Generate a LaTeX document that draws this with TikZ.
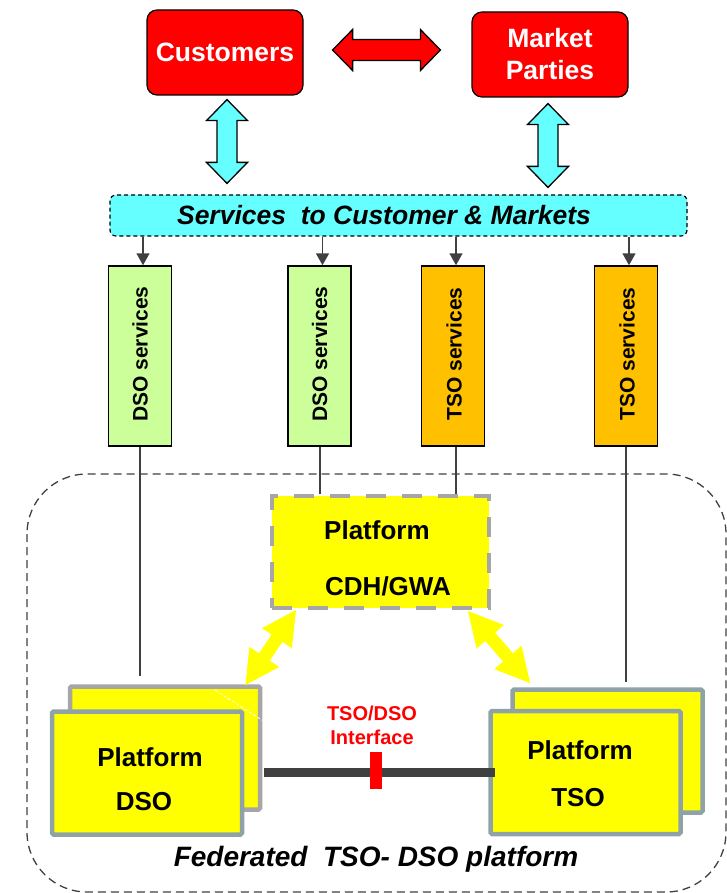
\documentclass[tikz,border=0pt]{standalone}
\usepackage{fontspec}
\setmainfont{Liberation Sans}
\usetikzlibrary{calc,arrows.meta}

\definecolor{cred}{HTML}{FF0000}
\definecolor{ccyan}{HTML}{66FFFF}
\definecolor{cgreen}{HTML}{CCFF99}
\definecolor{corange}{HTML}{FFC000}
\definecolor{cyellow}{HTML}{FFFF00}
\definecolor{cgray}{HTML}{A6A6A6}
\definecolor{cbluegray}{HTML}{8FA3A6}
\definecolor{cdark}{HTML}{404040}

% block arrow with a head at both ends:
% #1 start, #2 end, #3 shaft half width, #4 head half width, #5 head length, #6 style
\newcommand\fatarrow[6]{%
  \path[#6] let \p1=(#1), \p2=(#2),
    \n1={atan2(\y2-\y1,\x2-\x1)}, \n2={veclen(\x2-\x1,\y2-\y1)} in
    [shift={(\p1)}, rotate=\n1]
    (0,0) -- (#5,#4) -- (#5,#3) -- (\n2-#5,#3) -- (\n2-#5,#4) -- (\n2,0)
    -- (\n2-#5,-#4) -- (\n2-#5,-#3) -- (#5,-#3) -- (#5,-#4) -- cycle;
}

\begin{document}
\begin{tikzpicture}[x=1pt,y=-1pt,
  topbox/.style={draw=black, line width=1.2pt, fill=cred, rounded corners=10pt,
    text=white, font=\fontsize{26.5}{32}\selectfont\bfseries, align=center},
  svcbox/.style={draw=black, line width=1.5pt, minimum width=63pt, minimum height=180pt},
  svctext/.style={rotate=90, font=\fontsize{21}{24}\selectfont\bfseries, inner sep=0pt},
  platback/.style={draw=#1, line width=4.5pt, fill=cyellow, rounded corners=1.5pt,
    minimum width=190pt, minimum height=123pt},
  platfront/.style={draw=cbluegray, line width=4.5pt, fill=cyellow, rounded corners=1.5pt,
    minimum width=190pt, minimum height=123pt},
  plattext/.style={font=\fontsize{26}{30}\selectfont\bfseries, inner sep=0pt},
  feedarrow/.style={draw=cdark, line width=1.6pt, -{Triangle[width=13pt,length=12pt]}},
  wire/.style={draw=cdark, line width=2pt},
  cyanarrow/.style={draw=black, line width=1.3pt, fill=ccyan, line join=miter},
  redarrow/.style={draw=black, line width=1.3pt, fill=cred, line join=miter},
  yelarrow/.style={fill=cyellow},
]
\useasboundingbox (0,0) rectangle (727,893);

% federated platform frame
\draw[cdark, line width=1.3pt, dash pattern=on 8pt off 5pt, rounded corners=60pt]
  (27,474) rectangle (726,892);

% customers and market parties
\node[topbox, minimum width=156pt, minimum height=85pt] (cust) at (225,52.5) {Customers};
\node[topbox, minimum width=156pt, minimum height=85pt] (mkt) at (550,54.5) {Market\\Parties};

% services bar
\node[draw=black, line width=1.2pt, dash pattern=on 4pt off 3pt, fill=ccyan,
  rounded corners=6pt, minimum width=577pt, minimum height=41pt] (bar) at (398.5,215.5) {};
\node[font=\fontsize{26.5}{30}\selectfont\bfseries\itshape, inner sep=0pt] (bartxt)
  at (384,215) {Services\ \ to Customer \& Markets};

% service columns
\node[svcbox, fill=cgreen] (b1) at (140,356) {};
\node[svcbox, fill=cgreen] (b2) at (319.5,356) {};
\node[svcbox, fill=corange] (b3) at (453,356) {};
\node[svcbox, fill=corange] (b4) at (626,356) {};
\node[svctext] (t1) at (140,354) {DSO services};
\node[svctext] (t2) at (319.5,354) {DSO services};
\node[svctext] (t3) at (454,354) {TSO services};
\node[svctext] (t4) at (627,354) {TSO services};

\foreach \b in {b1,b2,b3,b4}
  \draw[feedarrow] ($(\b.north |- bar.south)+(3,0)$) -- ($(\b.north)+(3,0)$);

% platforms
\node[draw=cgray, line width=4pt, dash pattern=on 20pt off 16pt, fill=cyellow,
  minimum width=217pt, minimum height=112pt] (cdh) at (380.5,552) {};
\node[plattext, anchor=west] (cdht1) at (324,530) {Platform};
\node[plattext, anchor=west] (cdht2) at (325,586) {CDH/GWA};

\node[platback=cgray] (dsob) at (165,748) {};
\node[platfront] (dsof) at (147,773) {};
\node[plattext] (dsot1) at (150,757) {Platform};
\node[plattext] (dsot2) at (144,802) {DSO};
\draw[white, line width=0.8pt, dash pattern=on 3pt off 2pt]
  ($(dsob.north east)+(-47,6)$) -- ($(dsob.north east)+(0,36)$);

\node[platback=cbluegray] (tsob) at (607.5,751) {};
\node[platfront] (tsof) at (585.5,772.5) {};
\node[plattext] (tsot1) at (580,750) {Platform};
\node[plattext] (tsot2) at (578,798) {TSO};

% vertical wires from the service columns
\draw[wire] (b1.south) -- ($(b1.south |- dsob.north)+(0,-8)$);
\draw[wire] (b2.south) -- (b2.south |- cdh.north);
\draw[wire] ($(b3.south)+(3,0)$) -- ($(b3.south |- cdh.north)+(3,0)$);
\draw[wire] (b4.south) -- ($(b4.south |- tsob.north)+(0,-5)$);

% block arrows
\fatarrow{$(cust.east)+(29,-2.5)$}{$(mkt.west)+(-31,-4.5)$}{10.5}{20.5}{20}{redarrow}
\fatarrow{$(cust.south)+(2,4)$}{$(cust.south |- bar.north)+(2,-11)$}{10}{20.5}{21}{cyanarrow}
\fatarrow{$(mkt.south)+(-2,6)$}{$(mkt.south |- bar.north)+(-2,-7)$}{10}{20.5}{21}{cyanarrow}
\fatarrow{$(cdh.south west)+(26,0)$}{$(dsob.north east)+(-17,1)$}{6.5}{18}{34}{yelarrow}
\fatarrow{$(cdh.south east)+(-23,1)$}{$(tsob.north west)+(20,-4)$}{6.5}{18}{34}{yelarrow}

% TSO/DSO interface
\draw[cdark, line width=9pt] ($(dsob.east)+(2,24)$) -- ($(tsof.west)+(7,-0.5)$);
\node[fill=cred, inner sep=0pt, minimum width=12pt, minimum height=37pt] (tick) at (376,770.5) {};
\node[text=cred, font=\fontsize{20}{24}\selectfont\bfseries, align=center, inner sep=0pt]
  (ifctxt) at (372,725) {TSO/DSO\\Interface};

% frame caption
\node[font=\fontsize{28}{32}\selectfont\bfseries\itshape, inner sep=0pt] (fedtxt)
  at (376,859) {Federated\ \ TSO- DSO platform};
\end{tikzpicture}
\end{document}
